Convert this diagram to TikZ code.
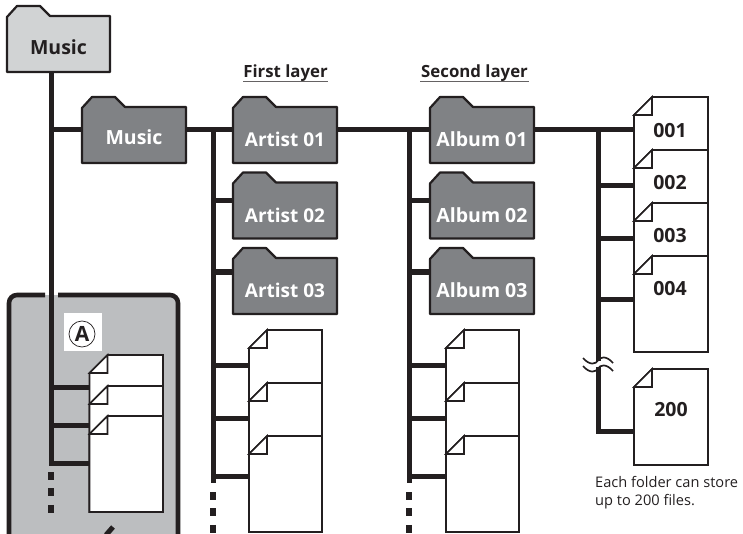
\documentclass[tikz,border=0pt]{standalone}
\usepackage{fontspec}
\setmainfont{Open Sans}
\definecolor{ink}{HTML}{231F20}
\definecolor{rootfill}{HTML}{D1D3D4}
\definecolor{darkfill}{HTML}{808285}
\definecolor{panelfill}{HTML}{BCBEC0}
\tikzset{
  bus/.style={draw=ink,line width=5pt},
  rung/.style={draw=ink,line width=5pt},
  outline/.style={draw=ink,line width=2.2pt,line join=round},
  sheet/.style={draw=ink,line width=1.6pt,line join=miter,fill=white},
  folderbody/.style={inner sep=0pt,font=\fontsize{#1}{#1}\selectfont\bfseries,anchor=base},
  dotmark/.style={draw=ink,line width=5.4pt,dash pattern=on 8pt off 8.4pt},
  filetext/.style={inner sep=0pt,font=\fontsize{19.5}{19.5}\selectfont\bfseries,text=ink},
  layertext/.style={inner sep=0pt,font=\fontsize{16.8}{16.8}\selectfont\bfseries,text=ink,text depth=5pt,anchor=base},
  wave/.style={draw=ink,line width=1.7pt}
}
% name, left, top, width, fill, textcolour, baseline offset from bottom, text, size
\newcommand\folderat[9]{%
  \path[outline,fill=#5] ({#2},{#3+11}) -- ({#2+10},{#3}) -- ({#2+33},{#3}) -- ({#2+43},{#3+10})
     -- ({#2+#4},{#3+10}) -- ({#2+#4},{#3+66}) -- ({#2},{#3+66}) -- cycle;
  \node[folderbody=#9,text=#6,minimum width=#4pt,text height={56pt-#7pt},text depth=#7pt]
     (#1) at ({#2+#4/2},{#3+66-#7}) {#8};
}
% name, left, top, right, bottom
\newcommand\fileat[5]{%
  \path[sheet] ({#2},{#3+18}) -- ({#2+18},{#3}) -- ({#4},{#3}) -- ({#4},{#5}) -- ({#2},{#5}) -- cycle;
  \draw[sheet,fill=white] ({#2},{#3+18}) -- ({#2+18},{#3+18}) -- ({#2+18},{#3}) -- cycle;
  \node[inner sep=0pt,minimum width={(#4-#2)*1pt},minimum height={(#5-#3-18)*1pt}] (#1) at ({(#2+#4)/2},{(#3+18+#5)/2}) {};
}
\begin{document}
\begin{tikzpicture}[x=1pt,y=-1pt]
\useasboundingbox (0,0) rectangle (743,534);
% panel
\fill[panelfill,rounded corners=8pt] (9,295) -- (178,295) -- (178,545) -- (9,545) -- cycle;
\fill[white] (0,534) rectangle (743,546);
\draw[draw=ink,line width=4.6pt,rounded corners=8pt] (45,295) -- (9,295) -- (9,534);
\draw[draw=ink,line width=4.6pt,rounded corners=8pt] (58,295) -- (178,295) -- (178,534);
\fill[white] (64,313) rectangle (102,351);
\node[draw=ink,circle,line width=0.7pt,minimum size=26pt,inner sep=0pt,font=\fontsize{21}{21}\selectfont\bfseries,text=ink] (markA) at (82,334) {A};
\draw[draw=ink,line width=5pt] (106,535) -- (113,527);
% folders
\folderat{root}{7}{6}{103}{rootfill}{ink}{17}{Music}{19.5}
\folderat{music}{82}{97}{104}{darkfill}{white}{18}{Music}{19.5}
\folderat{artistA}{233}{97}{104}{darkfill}{white}{16}{Artist 01}{19}
\folderat{artistB}{233}{172.5}{104}{darkfill}{white}{16}{Artist 02}{19}
\folderat{artistC}{233}{248}{104}{darkfill}{white}{16}{Artist 03}{19}
\folderat{albumA}{430}{97}{104}{darkfill}{white}{16}{Album 01}{19.5}
\folderat{albumB}{430}{172.5}{104}{darkfill}{white}{16}{Album 02}{19.5}
\folderat{albumC}{430}{248}{104}{darkfill}{white}{16}{Album 03}{19.5}
% file stacks
\fileat{pA}{89.5}{355}{163}{512}
\fileat{pB}{89.5}{386}{163}{512}
\fileat{pC}{89.5}{416}{163}{512}
\fileat{aA}{249}{330}{322}{532}
\fileat{aB}{249}{383}{322}{532}
\fileat{aC}{249}{436}{322}{532}
\fileat{bA}{446}{330}{519}{532}
\fileat{bB}{446}{383}{519}{532}
\fileat{bC}{446}{436}{519}{532}
\fileat{fA}{634}{97}{708}{352}
\fileat{fB}{634}{150}{708}{352}
\fileat{fC}{634}{203}{708}{352}
\fileat{fD}{634}{256}{708}{352}
\fileat{fE}{634}{369}{708}{465}
\node[filetext] (tA) at (670,131) {001};
\node[filetext] (tB) at (670,183) {002};
\node[filetext] (tC) at (670,236) {003};
\node[filetext] (tD) at (670,289) {004};
\node[filetext] (tE) at (671,410) {200};
% coordinates
\coordinate (busY) at (51,130);
\coordinate (trunkEnd) at (51,463);
\coordinate (brA) at (213,130);
\coordinate (brAend) at (213,483);
\coordinate (brB) at (409,130);
\coordinate (brBend) at (409,483);
\coordinate (brC) at (598,130);
\coordinate (brCbreak) at (598,361);
\coordinate (brCresume) at (598,367);
\coordinate (brCend) at (598,431);
% connectors
\draw[bus,line join=miter] (root.south -| busY) -- (trunkEnd) -- (pC.west |- trunkEnd);
\draw[bus] (busY) -- (music.west |- busY);
\draw[bus] (music.east |- busY) -- (artistA.west |- busY);
\draw[bus] (artistA.east |- busY) -- (albumA.west |- busY);
\draw[bus] (albumA.east |- busY) -- (fA.west |- busY);
\draw[bus] (brA) -- (brAend);
\draw[bus] (brB) -- (brBend);
\draw[bus] (brC) -- (brCbreak);
\draw[bus,line join=miter] (brCresume) -- (brCend) -- (fE.west |- brCend);
\path (51,387) coordinate (p1) (51,425) coordinate (p2);
\draw[rung] (p1) -- (pA.west |- p1);
\draw[rung] (p2) -- (pB.west |- p2);
\path (213,201) coordinate (a1) (213,272) coordinate (a2) (213,365) coordinate (a3) (213,418) coordinate (a4) (213,476) coordinate (a5);
\draw[rung] (a1) -- (artistB.west |- a1);
\draw[rung] (a2) -- (artistC.west |- a2);
\draw[rung] (a3) -- (aA.west |- a3);
\draw[rung] (a4) -- (aB.west |- a4);
\draw[rung] (a5) -- (aC.west |- a5);
\path (409,201) coordinate (b1) (409,272) coordinate (b2) (409,365) coordinate (b3) (409,418) coordinate (b4) (409,476) coordinate (b5);
\draw[rung] (b1) -- (albumB.west |- b1);
\draw[rung] (b2) -- (albumC.west |- b2);
\draw[rung] (b3) -- (bA.west |- b3);
\draw[rung] (b4) -- (bB.west |- b4);
\draw[rung] (b5) -- (bC.west |- b5);
\path (598,186) coordinate (c1) (598,239) coordinate (c2) (598,299) coordinate (c3);
\draw[rung] (c1) -- (fB.west |- c1);
\draw[rung] (c2) -- (fC.west |- c2);
\draw[rung] (c3) -- (fD.west |- c3);
% continuation dots
\draw[dotmark] (51,472) -- (51,513);
\draw[dotmark] (213,492) -- (213,534);
\draw[dotmark] (409,492) -- (409,534);
% break mark
\draw[wave] (583,358) .. controls (590,366) and (596,364) .. (598,360.5) .. controls (600,357) and (606,355) .. (613,363);
\draw[wave] (583,366) .. controls (590,374) and (596,372) .. (598,368.5) .. controls (600,365) and (606,363) .. (613,371);
% texts
\node[layertext] (first) at (285.5,78) {First layer};
\draw[draw=ink!70,line width=1pt] (243,82) -- (328,82);
\node[layertext] (second) at (474.5,78) {Second layer};
\draw[draw=ink!70,line width=1pt] (420,82) -- (529,82);
\node[anchor=north west,inner sep=0pt,align=left,font=\fontsize{14.6}{18}\selectfont,text=ink] (caption) at (595,476) {Each folder can store\\up to 200 files.};
\end{tikzpicture}
\end{document}
